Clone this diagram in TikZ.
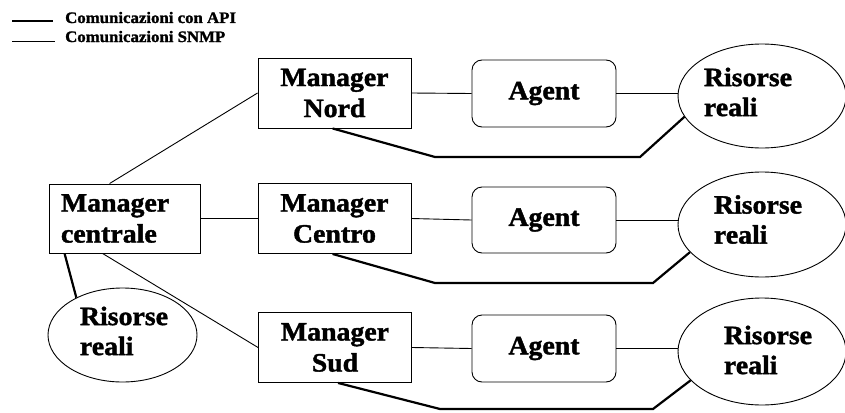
\documentclass[tikz,border=0pt]{standalone}
\usepackage{fontspec}
\setmainfont{Liberation Serif}
\newfontfamily\heavyfont{Liberation Serif}[FakeStretch=1.05,BoldFeatures={FakeBold=1.5}]
\usetikzlibrary{shapes.geometric,calc}
\begin{document}
\begin{tikzpicture}[x=1pt,y=-1pt,
  big/.style={font=\heavyfont\bfseries\fontsize{26.5}{31}\selectfont},
  mgr/.style={draw,line width=0.9pt,minimum width=153pt,minimum height=70pt,inner sep=0pt,big,align=center},
  agentbox/.style={draw,line width=0.9pt,rounded corners=10pt,minimum width=144pt,minimum height=67pt,inner sep=0pt,big},
  res/.style={draw,line width=0.9pt,ellipse,inner sep=0pt},
  restext/.style={align=left,inner sep=0pt,font=\heavyfont\bfseries\fontsize{26.5}{30}\selectfont},
  snmp/.style={line width=0.9pt},
  api/.style={line width=2.2pt,line join=miter},
  legtext/.style={anchor=base west,inner sep=0pt,font=\heavyfont\bfseries\fontsize{16}{18}\selectfont}]
\useasboundingbox (0,0) rectangle (845,412);
\fill[white] (0,0) rectangle (845,412);

% legend
\coordinate (la1) at (12,21);
\coordinate (la2) at (53,21);
\coordinate (ls1) at (12,41);
\coordinate (ls2) at (55,41);
\draw[line width=2pt] (la1) -- (la2);
\draw[line width=0.9pt] (ls1) -- (ls2);
\node[legtext] (lt1) at (65,23) {Comunicazioni con API};
\node[legtext] (lt2) at (65,42) {Comunicazioni SNMP};

% central manager and its local resources
\node[draw,line width=0.9pt,inner xsep=12pt,inner ysep=0pt,text width=127pt,minimum height=69pt,align=left,big] (mc) at (124.5,218.5) {Manager\\centrale};
\node[res,minimum width=149pt,minimum height=94pt] (rloc) at (122.5,335) {};
\node[restext] (rloct) at (124,331) {Risorse\\reali};

% regional managers
\node[mgr] (mn) at (334.5,93) {Manager\\Nord};
\node[mgr] (mce) at (334.5,218.5) {Manager\\Centro};
\node[mgr] (ms) at (335,347.5) {Manager\\Sud};

% agents
\node[agentbox] (an) at (544,93.5) {Agent};
\node[agentbox,minimum height=66pt] (ace) at (544,220) {Agent};
\node[agentbox] (as) at (544,348.5) {Agent};

% real resources
\node[res,minimum width=168pt,minimum height=104pt] (rn) at (762,96) {};
\node[res,minimum width=168pt,minimum height=105pt] (rce) at (762,224.5) {};
\node[res,minimum width=168pt,minimum height=107pt] (rs) at (762,351.5) {};
\node[restext] (rnt) at (748,92) {Risorse\\reali};
\node[restext] (rcet) at (758,219.5) {Risorse\\reali};
\node[restext] (rst) at (768,350) {Risorse\\reali};

% SNMP links
\draw[snmp] ($(mc.north west)+(61,0)$) -- (mn.west);
\draw[snmp] (mc.east) -- (mce.west);
\draw[snmp] ($(mc.south west)+(54,0)$) -- (ms.west);
\draw[snmp] (mn.east) -- (an.west);
\draw[snmp] (mce.east) -- (ace.west);
\draw[snmp] (ms.east) -- (as.west);
\draw[snmp] (an.east) -- (an.east -| rn.west);
\draw[snmp] (ace.east) -- (ace.east -| rce.west);
\draw[snmp] (as.east) -- (as.east -| rs.west);

% API links
\draw[api] ($(mc.south west)+(16,0)$) -- (rloc.141.5);
\draw[api] ($(mn.south west)+(75,0)$) -- (435,157) -- (640,157) -- (rn.195);
\draw[api] ($(mce.south west)+(75,0)$) -- (435,283) -- (653,283) -- (rce.201);
\draw[api] ($(ms.south west)+(80,0)$) -- (440,409) -- (653,409) -- (rs.202);
\end{tikzpicture}
\end{document}
